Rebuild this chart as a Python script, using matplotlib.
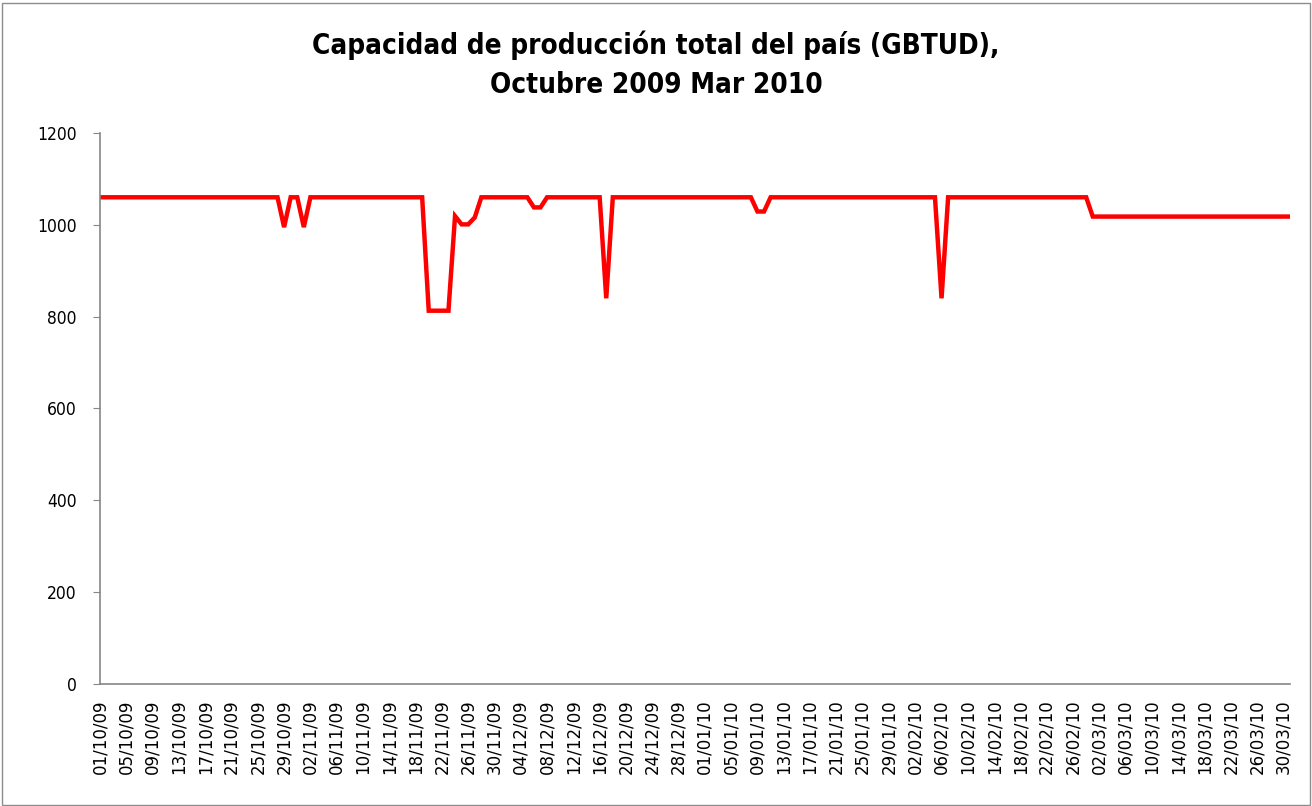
import matplotlib
matplotlib.use("Agg")
import matplotlib.pyplot as plt
from matplotlib.patches import Rectangle
import pandas as pd

# Categories: daily dates 01/10/2009 .. 31/03/2010
dates = pd.date_range("2009-10-01", "2010-03-31", freq="D")
date_labels = [d.strftime("%d/%m/%y") for d in dates]

# Capacity values (GBTUD), run by run
capacidad = ([1060] * 28 + [995] + [1060] * 2 + [995] + [1060] * 18 +
             [813] * 4 + [1019] + [1001] * 2 + [1016] + [1060] * 8 +
             [1038] * 2 + [1060] * 9 + [840] + [1060] * 22 +
             [1029] * 2 + [1060] * 26 + [840] + [1060] * 22 + [1018] * 31)

title = "Capacidad de producción total del país (GBTUD),\nOctubre 2009 Mar 2010"
y_ticks = [0, 200, 400, 600, 800, 1000, 1200]

W, H = 1312, 806
fig = plt.figure(figsize=(W / 100, H / 100), dpi=100)
fig.patch.set_facecolor("white")
fig.patches.append(Rectangle((1.5 / W, 1.5 / H), 1 - 4 / W, 1 - 4 / H,
                             transform=fig.transFigure, fill=False,
                             edgecolor="#8c8c8c", linewidth=1.0))

ax = fig.add_axes([100 / W, 122 / H, 1190 / W, 551 / H])
x = list(range(len(capacidad)))
ax.plot(x, capacidad, color="#ff0000", linewidth=3.2, solid_joinstyle="miter")

ax.set_xlim(0, len(capacidad) - 1)
ax.set_ylim(0, 1200)
ax.set_yticks(y_ticks)
ax.set_yticklabels([str(v) for v in y_ticks], fontsize=12.5,
                   family="DejaVu Sans", fontstretch="condensed")
tick_pos = list(range(0, len(date_labels), 4))
ax.set_xticks(tick_pos)
ax.set_xticklabels([date_labels[i] for i in tick_pos], rotation=90,
                   fontsize=12, family="DejaVu Sans", color="black")

for side in ["top", "right"]:
    ax.spines[side].set_visible(False)
for side in ["left", "bottom"]:
    ax.spines[side].set_color("#868686")
    ax.spines[side].set_linewidth(1.2)
ax.tick_params(axis="y", length=5, color="#868686", pad=12)
ax.tick_params(axis="x", length=0, pad=11)

fig.text(0.5, 1 - 65 / H, title, ha="center", va="center", fontsize=20,
         fontweight="bold", family="DejaVu Sans", fontstretch="condensed",
         linespacing=1.5)

fig.savefig("out.png", dpi=100)
